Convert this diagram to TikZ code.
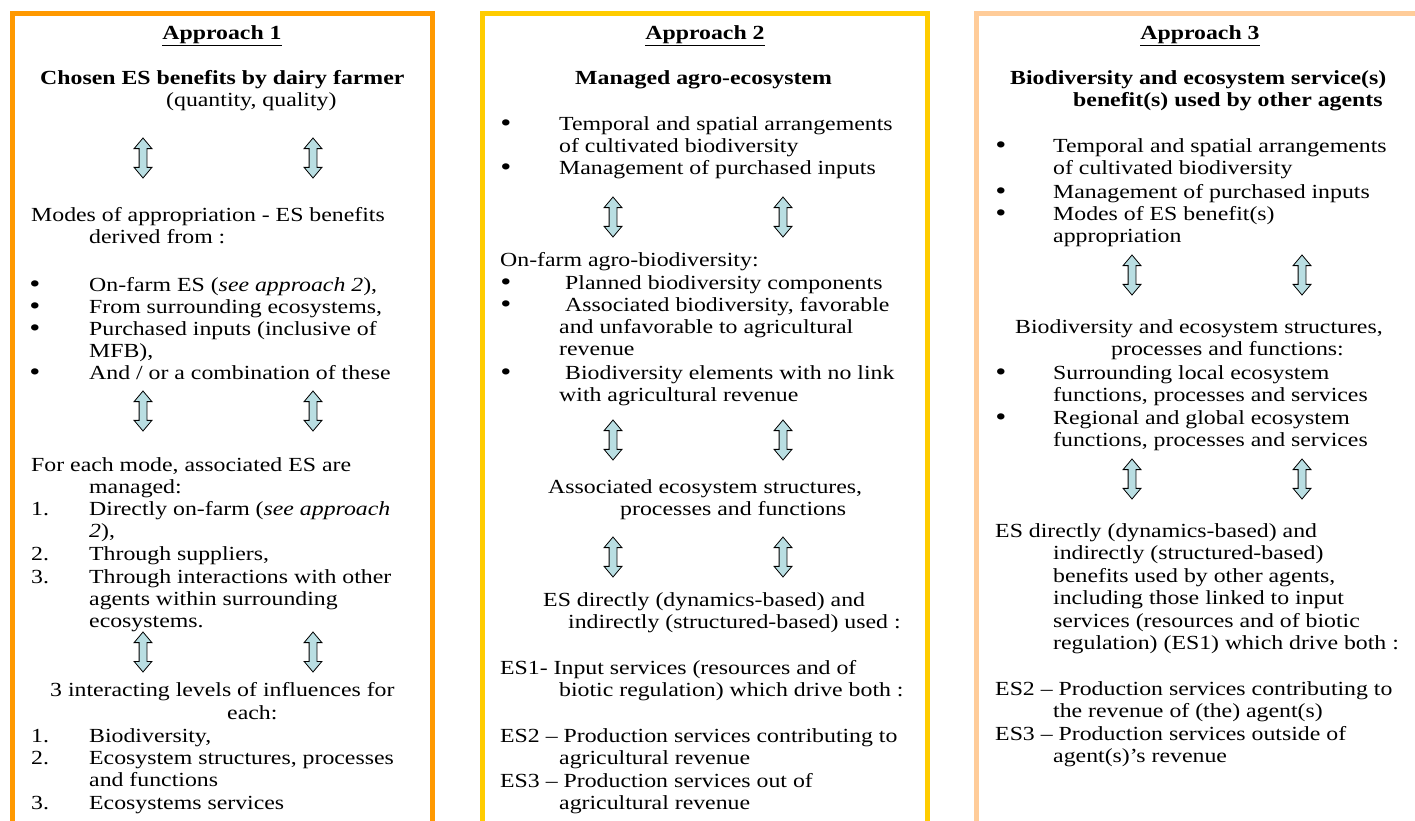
\documentclass[tikz,border=0pt]{standalone}
\usepackage{fontspec}
\setmainfont{Liberation Serif}[FakeStretch=1.19]
\usetikzlibrary{shapes.arrows}
\definecolor{boxA}{RGB}{255,153,0}
\definecolor{boxB}{RGB}{255,204,0}
\definecolor{boxC}{RGB}{255,204,153}
\definecolor{arrfill}{RGB}{185,222,226}
\newcommand\txtline[4]{\node[txt] (#1) at (#2,#3) {#4};}
\newcommand\bulletat[3]{\node[txt,font=\fontsize{23}{23}\selectfont\bfseries] (#1) at (#2,#3) {•};}
\newcommand\dblarr[3]{\node[udarrow] (#1) at (#2,#3) {};}
\begin{document}
\begin{tikzpicture}[x=1pt,y=-1pt,
  txt/.style={anchor=base west,inner sep=0pt,font=\fontsize{20}{22}\selectfont},
  ttl/.style={anchor=base,inner sep=0pt,font=\fontsize{20}{22}\selectfont\bfseries},
  frame/.style={line width=5pt},
  udarrow/.style={draw=black,fill=arrfill,line width=0.8pt,shape=double arrow,rotate=90,
     minimum height=40pt,minimum width=17pt,inner sep=3.5pt,double arrow head extend=5pt,
     double arrow tip angle=80}]
\useasboundingbox (0,0) rectangle (1415,821);
\clip (0,0) rectangle (1415,821);
\fill[white] (0,0) rectangle (1415,821);
% frames
\draw[frame,boxA] (12.5,840) -- (12.5,14) -- (432.5,14) -- (432.5,840);
\draw[frame,boxB] (482.5,840) -- (482.5,14) -- (927.5,14) -- (927.5,840);
\draw[frame,boxC] (976.5,840) -- (976.5,14) -- (1440,14);
% ---------------- Approach 1
\node[ttl] (t1) at (222,40) {\underline{Approach 1}};
\txtline{a01}{40}{85}{\bfseries Chosen ES benefits by dairy farmer}
\txtline{a02}{166}{107}{(quantity, quality)}
\dblarr{r1a}{143}{158}
\dblarr{r1b}{313}{158}
\txtline{a03}{31}{221}{Modes of appropriation - ES benefits}
\txtline{a04}{89}{243}{derived from :}
\bulletat{a05b}{30}{291}
\txtline{a05}{89}{291}{On-farm ES (\textit{see approach 2}),}
\bulletat{a06b}{30}{313}
\txtline{a06}{89}{313}{From surrounding ecosystems,}
\bulletat{a07b}{30}{335}
\txtline{a07}{89}{335}{Purchased inputs (inclusive of}
\txtline{a08}{89}{357}{MFB),}
\bulletat{a09b}{30}{379}
\txtline{a09}{89}{379}{And / or a combination of these}
\dblarr{r2a}{143}{411}
\dblarr{r2b}{313}{411}
\txtline{a10}{31}{471}{For each mode, associated ES are}
\txtline{a11}{89}{493}{managed:}
\txtline{a12n}{31}{515}{1.}
\txtline{a12}{89}{515}{Directly on-farm (\textit{see approach}}
\txtline{a13}{89}{537}{\textit{2}),}
\txtline{a14n}{31}{560}{2.}
\txtline{a14}{89}{560}{Through suppliers,}
\txtline{a15n}{31}{583}{3.}
\txtline{a15}{89}{583}{Through interactions with other}
\txtline{a16}{89}{605}{agents within surrounding}
\txtline{a17}{89}{627}{ecosystems.}
\dblarr{r3a}{143}{652}
\dblarr{r3b}{313}{652}
\txtline{a18}{50}{696}{3 interacting levels of influences for}
\txtline{a19}{227}{719}{each:}
\txtline{a20n}{31}{742}{1.}
\txtline{a20}{89}{742}{Biodiversity,}
\txtline{a21n}{31}{764}{2.}
\txtline{a21}{89}{764}{Ecosystem structures, processes}
\txtline{a22}{89}{786}{and functions}
\txtline{a23n}{31}{809}{3.}
\txtline{a23}{89}{809}{Ecosystems services}
% ---------------- Approach 2
\node[ttl] (t2) at (705,40) {\underline{Approach 2}};
\txtline{b01}{575}{85}{\bfseries Managed agro-ecosystem}
\bulletat{b02b}{501}{131}
\txtline{b02}{559}{131}{Temporal and spatial arrangements}
\txtline{b03}{559}{153}{of cultivated biodiversity}
\bulletat{b04b}{501}{175}
\txtline{b04}{559}{175}{Management of purchased inputs}
\dblarr{r4a}{613}{217}
\dblarr{r4b}{783}{217}
\txtline{b05}{500}{266}{On-farm agro-biodiversity:}
\bulletat{b06b}{501}{289}
\txtline{b06}{565}{289}{Planned biodiversity components}
\bulletat{b07b}{501}{311}
\txtline{b07}{565}{311}{Associated biodiversity, favorable}
\txtline{b08}{559}{333}{and unfavorable to agricultural}
\txtline{b09}{559}{355}{revenue}
\bulletat{b10b}{501}{379}
\txtline{b10}{565}{379}{Biodiversity elements with no link}
\txtline{b11}{559}{401}{with agricultural revenue}
\dblarr{r5a}{613}{440}
\dblarr{r5b}{783}{440}
\txtline{b12}{548}{493}{Associated ecosystem structures,}
\txtline{b13}{620}{515}{processes and functions}
\dblarr{r6a}{613}{557}
\dblarr{r6b}{783}{557}
\txtline{b14}{543}{606}{ES directly (dynamics-based) and}
\txtline{b15}{568}{628}{indirectly (structured-based) used :}
\txtline{b16}{500}{674}{ES1- Input services (resources and of}
\txtline{b17}{559}{696}{biotic regulation) which drive both :}
\txtline{b18}{500}{742}{ES2 -- Production services contributing to}
\txtline{b19}{559}{764}{agricultural revenue}
\txtline{b20}{500}{787}{ES3 -- Production services out of}
\txtline{b21}{559}{809}{agricultural revenue}
% ---------------- Approach 3
\node[ttl] (t3) at (1200,40) {\underline{Approach 3}};
\txtline{c01}{1010}{85}{\bfseries Biodiversity and ecosystem service(s)}
\txtline{c02}{1073}{107}{\bfseries benefit(s) used by other agents}
\bulletat{c03b}{996}{153}
\txtline{c03}{1053}{153}{Temporal and spatial arrangements}
\txtline{c04}{1053}{175}{of cultivated biodiversity}
\bulletat{c05b}{996}{198}
\txtline{c05}{1053}{198}{Management of purchased inputs}
\bulletat{c06b}{996}{220}
\txtline{c06}{1053}{220}{Modes of ES benefit(s)}
\txtline{c07}{1053}{242}{appropriation}
\dblarr{r7a}{1132}{275}
\dblarr{r7b}{1302}{275}
\txtline{c08}{1015}{333}{Biodiversity and ecosystem structures,}
\txtline{c09}{1111}{355}{processes and functions:}
\bulletat{c10b}{996}{379}
\txtline{c10}{1053}{379}{Surrounding local ecosystem}
\txtline{c11}{1053}{401}{functions, processes and services}
\bulletat{c12b}{996}{424}
\txtline{c12}{1053}{424}{Regional and global ecosystem}
\txtline{c13}{1053}{446}{functions, processes and services}
\dblarr{r8a}{1132}{479}
\dblarr{r8b}{1302}{479}
\txtline{c14}{995}{537}{ES directly (dynamics-based) and}
\txtline{c15}{1053}{559}{indirectly (structured-based)}
\txtline{c16}{1053}{582}{benefits used by other agents,}
\txtline{c17}{1053}{604}{including those linked to input}
\txtline{c18}{1053}{627}{services (resources and of biotic}
\txtline{c19}{1053}{649}{regulation) (ES1) which drive both :}
\txtline{c20}{995}{695}{ES2 -- Production services contributing to}
\txtline{c21}{1053}{717}{the revenue of (the) agent(s)}
\txtline{c22}{995}{740}{ES3 -- Production services outside of}
\txtline{c23}{1053}{762}{agent(s)'s revenue}
\end{tikzpicture}
\end{document}
